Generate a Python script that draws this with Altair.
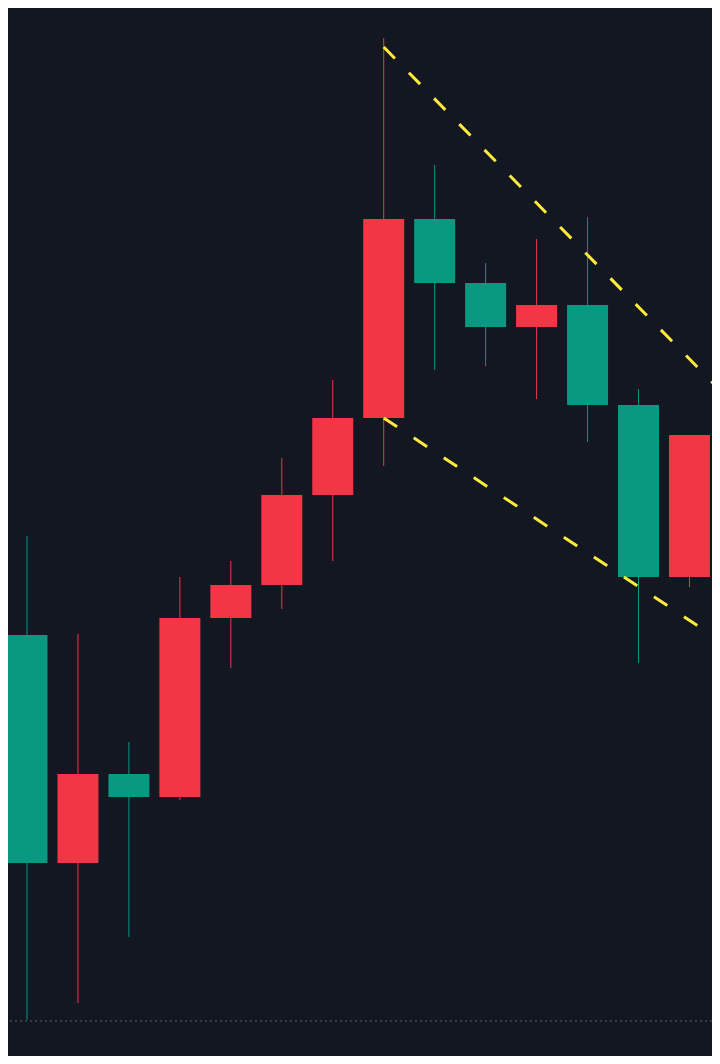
import altair as alt
import pandas as pd

# Candle data (price axis is inverted: higher price lower on screen)
idx = list(range(14))
opens = [63.5, 86.3, 77.4, 79.7, 61.8, 58.5, 49.5, 41.8, 21.9, 28.3, 32.7, 30.5, 40.5, 57.7]
closes = [86.3, 77.4, 79.7, 61.8, 58.5, 49.5, 41.8, 21.9, 28.3, 32.7, 30.5, 40.5, 57.7, 43.5]
highs = [102.0, 100.3, 93.7, 80.0, 66.8, 60.9, 56.1, 46.6, 37.0, 36.6, 39.9, 44.2, 66.3, 58.7]
lows = [53.6, 63.4, 74.2, 57.7, 56.1, 45.8, 38.0, 3.8, 16.5, 26.3, 23.9, 21.7, 38.9, 43.5]

# Reference level (dotted line)
ref_level = [102.1]

# Trend lines (two points each)
line_names = ["upper", "upper", "lower", "lower"]
line_x = [7, 14, 7, 14]
line_y = [4.7, 41.1, 41.8, 65.4]

df = pd.DataFrame({"i": idx, "open": opens, "close": closes, "high": highs, "low": lows})
df["dir"] = ["up" if c > o else "down" for o, c in zip(opens, closes)]

df_lines = pd.DataFrame({"line": line_names, "i": line_x, "price": line_y})
df_ref = pd.DataFrame({"level": ref_level})

xscale = alt.Scale(domain=[-0.3728, 13.442], nice=False, zero=False, padding=0)
yscale = alt.Scale(domain=[0.8, 105.6], reverse=True, nice=False, zero=False)
color = alt.Color("dir:N", scale=alt.Scale(domain=["up", "down"], range=["#089981", "#F23645"]), legend=None)

base = alt.Chart(df).encode(x=alt.X("i:Q", scale=xscale, axis=None), color=color)

wicks = base.mark_rule(strokeWidth=1).encode(
    y=alt.Y("low:Q", scale=yscale, axis=None), y2="high:Q"
)
bodies = base.mark_bar(size=41).encode(
    y=alt.Y("open:Q", scale=yscale, axis=None), y2="close:Q"
)

dotted = alt.Chart(df_ref).mark_rule(strokeWidth=1, strokeDash=[2, 3], color="#5d606b").encode(
    y=alt.Y("level:Q", scale=yscale, axis=None)
)

lines = alt.Chart(df_lines).mark_line(
    strokeDash=[16, 20], strokeWidth=3, color="#FFEB3B", clip=True
).encode(
    x=alt.X("i:Q", scale=xscale, axis=None),
    y=alt.Y("price:Q", scale=yscale, axis=None),
    detail="line:N",
)

chart = alt.layer(dotted, wicks, bodies, lines).properties(
    width=704,
    height=1048,
    autosize=alt.AutoSizeParams(type="none"),
    padding=0,
    background="#131722",
).configure_view(stroke=None)

chart.save("out.html", embed_options={"renderer": "svg", "actions": False})
